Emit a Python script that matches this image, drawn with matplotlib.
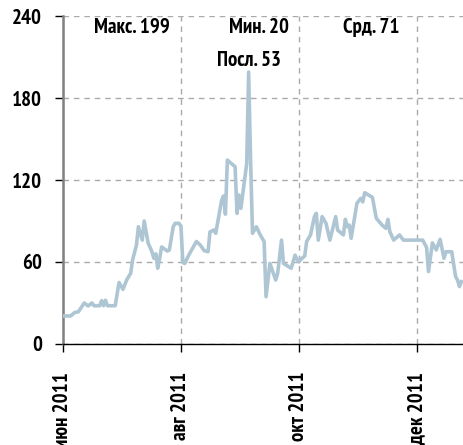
import matplotlib
matplotlib.use('Agg')
import matplotlib.pyplot as plt
import pandas as pd

plt.rcParams['font.family'] = ['PT Sans Narrow', 'DejaVu Sans']

# series
dates = ['2011-06-01', '2011-06-05', '2011-06-07', '2011-06-09', '2011-06-12', '2011-06-14',
         '2011-06-16', '2011-06-17', '2011-06-20', '2011-06-21', '2011-06-22', '2011-06-23',
         '2011-06-24', '2011-06-28', '2011-06-30', '2011-07-02', '2011-07-04', '2011-07-06',
         '2011-07-07', '2011-07-09', '2011-07-10', '2011-07-12', '2011-07-13', '2011-07-15',
         '2011-07-17', '2011-07-18', '2011-07-19', '2011-07-20', '2011-07-21', '2011-07-22',
         '2011-07-25', '2011-07-26', '2011-07-28', '2011-07-29', '2011-07-31', '2011-08-01',
         '2011-08-02', '2011-08-03', '2011-08-05', '2011-08-09', '2011-08-11', '2011-08-13',
         '2011-08-15', '2011-08-16', '2011-08-18', '2011-08-19', '2011-08-22', '2011-08-23',
         '2011-08-24', '2011-08-25', '2011-08-29', '2011-08-30', '2011-08-31', '2011-09-01',
         '2011-09-04', '2011-09-05', '2011-09-06', '2011-09-07', '2011-09-09', '2011-09-11',
         '2011-09-13', '2011-09-14', '2011-09-16', '2011-09-19', '2011-09-20', '2011-09-22',
         '2011-09-23', '2011-09-27', '2011-09-29', '2011-09-30', '2011-10-01', '2011-10-02',
         '2011-10-04', '2011-10-05', '2011-10-07', '2011-10-09', '2011-10-10', '2011-10-11',
         '2011-10-13', '2011-10-15', '2011-10-17', '2011-10-20', '2011-10-21', '2011-10-24',
         '2011-10-25', '2011-10-26', '2011-10-27', '2011-10-28', '2011-10-31', '2011-11-02',
         '2011-11-03', '2011-11-04', '2011-11-06', '2011-11-08', '2011-11-10', '2011-11-13',
         '2011-11-15', '2011-11-16', '2011-11-17', '2011-11-19', '2011-11-22', '2011-11-24',
         '2011-12-04', '2011-12-06', '2011-12-07', '2011-12-09', '2011-12-11', '2011-12-13',
         '2011-12-15', '2011-12-16', '2011-12-19', '2011-12-21', '2011-12-22', '2011-12-23',
         '2011-12-24']
values = [20.5, 20.5, 23, 23.6, 30, 27.8,
          30, 28, 28, 31.7, 28, 32,
          28, 28, 45, 40, 47, 51.7,
          61.5, 72.4, 85.8, 76, 90, 74,
          67.5, 62.7, 66, 55.4, 62.7, 71,
          68, 68.8, 85.8, 88.3, 88.3, 86,
          59.5, 59, 65, 75, 72.4, 68.3,
          67.5, 82, 83.4, 81, 105, 108.3,
          95, 134.6, 129.7, 95.6, 109, 99.3,
          132, 199, 134.6, 81, 85.8, 79.8,
          75, 34.6, 59, 46.8, 51.7, 76,
          59, 55.4, 65, 62, 60, 62,
          64.4, 75, 79.8, 93.2, 95.6, 76,
          93.2, 88.3, 76, 93.2, 83.4, 79.8,
          91.2, 85.8, 87, 77.3, 103, 106.6,
          104, 110.7, 109, 107.3, 92, 87,
          84.6, 91.2, 82.2, 76, 79.8, 76,
          76, 70.7, 53, 74, 68.8, 76.6,
          62.7, 67.5, 67.5, 49.3, 46.8, 42,
          45.6]

stat_labels = ['Макс. 199', 'Мин. 20', 'Срд. 71', 'Посл. 53']
month_labels = ['июн 2011', 'авг 2011', 'окт 2011', 'дек 2011']
month_ticks = ['2011-06-01', '2011-08-01', '2011-10-01', '2011-12-01']
y_ticks = [0, 60, 120, 180, 240]

x = pd.to_datetime(dates)

fig = plt.figure(figsize=(4.63, 4.45), dpi=100)
ax = fig.add_axes([0.136, 0.227, 0.864, 0.737])

ax.plot(x, values, color='#aec6d4', lw=2.6, solid_joinstyle='round', zorder=3)

ax.set_ylim(0, 240)
ax.set_xlim(pd.Timestamp('2011-06-01'), pd.Timestamp('2011-12-24 20:00'))
ax.set_yticks(y_ticks)
ax.set_xticks(pd.to_datetime(month_ticks))
ax.set_xticklabels(month_labels, rotation=90, va='top', ha='center')

ax.grid(True, color='#aaaaaa', lw=1, linestyle=(0, (4, 3.5)), zorder=0)
ax.set_axisbelow(True)

for s in ['top', 'right']:
    ax.spines[s].set_visible(False)
ax.spines['left'].set_color('#808080')
ax.spines['left'].set_linewidth(1.8)
ax.spines['bottom'].set_color('black')
ax.spines['bottom'].set_linewidth(1)

ax.tick_params(axis='y', length=6, width=1, color='black', pad=9, labelsize=15)
ax.tick_params(axis='x', length=6, width=1, color='black', pad=14, labelsize=15)
for lbl in ax.get_xticklabels() + ax.get_yticklabels():
    lbl.set_fontweight('bold')

# stats text across the top
ax.text(0.172, 0.965, stat_labels[0], transform=ax.transAxes, ha='center', va='center', fontsize=15, fontweight='bold')
ax.text(0.49, 0.965, stat_labels[1], transform=ax.transAxes, ha='center', va='center', fontsize=15, fontweight='bold')
ax.text(0.77, 0.965, stat_labels[2], transform=ax.transAxes, ha='center', va='center', fontsize=15, fontweight='bold')
ax.text(0.465, 0.863, stat_labels[3], transform=ax.transAxes, ha='center', va='center', fontsize=15, fontweight='bold')

fig.savefig('out.png', dpi=100)
